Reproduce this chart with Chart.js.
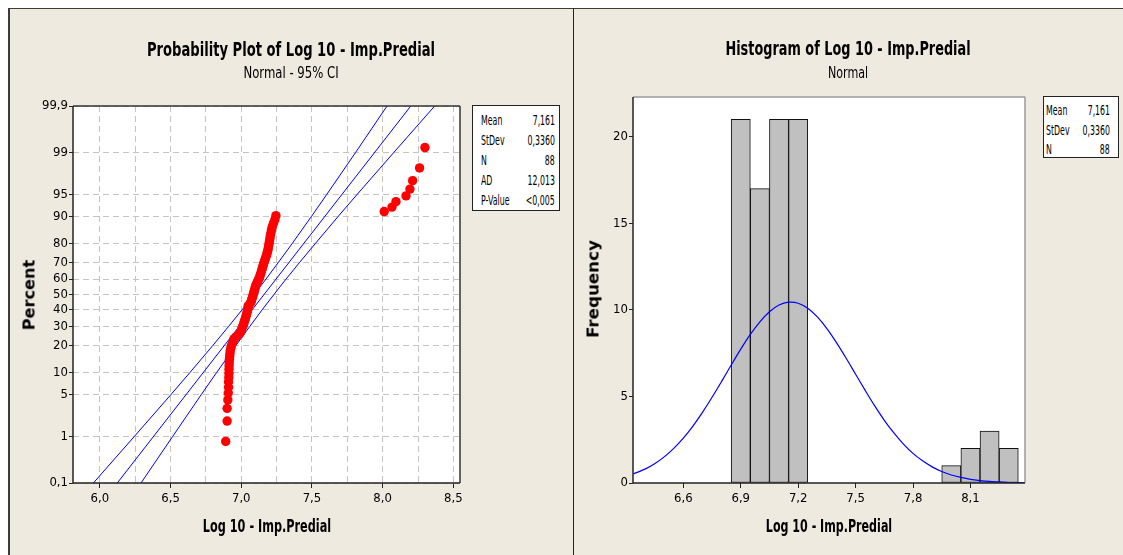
<!DOCTYPE html>
<html>
<head>
<meta charset="utf-8">
<script src="https://cdn.jsdelivr.net/npm/chart.js@4.4.1/dist/chart.umd.min.js"></script>
<style>
body { margin:0; width:1123px; height:555px; background:#fff; position:relative; overflow:hidden; font-family:"DejaVu Sans", sans-serif; }
.panel { position:absolute; top:8px; height:547px; background:#eeeae0; box-sizing:border-box; border-top:1px solid #3c3c3c; }
#lp { left:8px; width:565px; border-left:2px solid #3c3c3c; }
#rp { left:573px; width:550px; border-left:1px solid #222; }
canvas { position:absolute; top:0; }
.t { position:absolute; white-space:nowrap; line-height:1; color:#000; }
.box { position:absolute; background:#fff; border:1px solid #222; box-sizing:border-box; }
.box span { position:absolute; white-space:nowrap; font-size:14px; line-height:1; }
.box .l { transform-origin:left center; transform:scaleX(0.56); }
.box .r { transform-origin:right center; transform:scaleX(0.56); }
</style>
</head>
<body>
<div class="panel" id="lp"></div>
<div class="panel" id="rp"></div>
<canvas id="probChart" width="573" height="555" style="left:0"></canvas>
<canvas id="histChart" width="550" height="555" style="left:573px"></canvas>

<div class="t" data-x="290.5" data-y="49" data-w="288" style="font-size:20px;font-weight:bold">Probability Plot of Log 10 - Imp.Predial</div>
<div class="t" data-x="290.5" data-y="73" data-w="95" style="font-size:15px">Normal - 95% CI</div>
<div class="t" data-x="848" data-y="48" data-w="245" style="font-size:20px;font-weight:bold">Histogram of Log 10 - Imp.Predial</div>
<div class="t" data-x="848" data-y="73" data-w="40" style="font-size:15px">Normal</div>
<div class="t" data-x="30" data-y="295" data-w="70" data-r="1" style="font-size:15px;font-weight:bold">Percent</div>
<div class="t" data-x="594" data-y="289" data-w="98" data-r="1" style="font-size:15px;font-weight:bold">Frequency</div>
<div class="t" data-x="267" data-y="526" data-w="128" style="font-size:17px;font-weight:bold">Log 10 - Imp.Predial</div>
<div class="t" data-x="829" data-y="526" data-w="126" style="font-size:17px;font-weight:bold">Log 10 - Imp.Predial</div>

<div class="box" id="probStats" style="left:472px;top:105px;width:88px;height:106px"></div>
<div class="box" id="histStats" style="left:1043px;top:96px;width:76px;height:62px"></div>

<script>
// probability plot data (sorted values and plotted percent)
const probX = [
  6.890, 6.900, 6.900, 6.905, 6.908, 6.910, 6.910, 6.912, 6.913, 6.913,
  6.914, 6.915, 6.916, 6.918, 6.920, 6.922, 6.926, 6.930, 6.938, 6.944,
  6.948, 6.965, 6.985, 6.995, 7.000, 7.005, 7.012, 7.016, 7.020, 7.025,
  7.029, 7.033, 7.037, 7.040, 7.043, 7.047, 7.048, 7.049, 7.060, 7.068,
  7.072, 7.076, 7.080, 7.083, 7.087, 7.090, 7.094, 7.097, 7.100, 7.105,
  7.110, 7.116, 7.122, 7.128, 7.132, 7.136, 7.140, 7.144, 7.148, 7.152,
  7.156, 7.160, 7.165, 7.170, 7.175, 7.180, 7.184, 7.188, 7.191, 7.194,
  7.197, 7.200, 7.203, 7.206, 7.210, 7.214, 7.220, 7.228, 7.238, 7.245,
  8.011, 8.066, 8.094, 8.165, 8.193, 8.212, 8.261, 8.299
];
const probPct = [
  0.8, 1.9, 3.1, 4.2, 5.3, 6.4, 7.6, 8.7, 9.8, 11.0,
  12.1, 13.2, 14.4, 15.5, 16.6, 17.8, 18.9, 20.0, 21.2, 22.3,
  23.4, 24.5, 25.7, 26.8, 27.9, 29.1, 30.2, 31.3, 32.5, 33.6,
  34.7, 35.9, 37.0, 38.1, 39.3, 40.4, 41.5, 42.6, 43.8, 44.9,
  46.0, 47.2, 48.3, 49.4, 50.6, 51.7, 52.8, 54.0, 55.1, 56.2,
  57.4, 58.5, 59.6, 60.7, 61.9, 63.0, 64.1, 65.3, 66.4, 67.5,
  68.7, 69.8, 70.9, 72.1, 73.2, 74.3, 75.5, 76.6, 77.7, 78.8,
  80.0, 81.1, 82.2, 83.4, 84.5, 85.6, 86.8, 87.9, 89.0, 90.2,
  91.3, 92.4, 93.6, 94.7, 95.8, 96.9, 98.1, 99.2
];
const fitPct = [0.1, 99.9];
const fitX = [6.123, 8.199];
const ciPct = [0.1, 1, 5, 10, 20, 30, 40, 50, 60, 70, 80, 90, 95, 99, 99.9];
const ciLowX = [5.954, 6.244, 6.501, 6.636, 6.797, 6.910, 7.005, 7.091, 7.175, 7.262, 7.362, 7.497, 7.606, 7.808, 8.031];
const ciHighX = [6.291, 6.515, 6.716, 6.825, 6.960, 7.060, 7.147, 7.231, 7.317, 7.412, 7.526, 7.686, 7.821, 8.078, 8.368];

const pctTicks = [0.1, 1, 5, 10, 20, 30, 40, 50, 60, 70, 80, 90, 95, 99, 99.9];
const pctLabels = ['0,1', '1', '5', '10', '20', '30', '40', '50', '60', '70', '80', '90', '95', '99', '99,9'];
const probXGrid = [6.0, 6.25, 6.5, 6.75, 7.0, 7.25, 7.5, 7.75, 8.0, 8.25, 8.5];
const probXLabels = ['6,0', '', '6,5', '', '7,0', '', '7,5', '', '8,0', '', '8,5'];

// histogram data
const binMid = [6.9, 7.0, 7.1, 7.2, 7.3, 7.4, 7.5, 7.6, 7.7, 7.8, 7.9, 8.0, 8.1, 8.2, 8.3];
const binCount = [21, 17, 21, 21, 0, 0, 0, 0, 0, 0, 0, 1, 2, 3, 2];
const curveX = [6.34, 6.40, 6.45, 6.50, 6.55, 6.60, 6.65, 6.70, 6.75, 6.80, 6.85, 6.90, 6.95, 7.00, 7.05,
  7.10, 7.15, 7.20, 7.25, 7.30, 7.35, 7.40, 7.45, 7.50, 7.55, 7.60, 7.65, 7.70, 7.75, 7.80,
  7.85, 7.90, 7.95, 8.00, 8.05, 8.10, 8.15, 8.20, 8.25, 8.30, 8.35, 8.38];
const curveY = [0.53, 0.80, 1.11, 1.51, 2.00, 2.59, 3.29, 4.08, 4.95, 5.87, 6.81, 7.73, 8.58, 9.31, 9.89,
  10.28, 10.44, 10.38, 10.09, 9.59, 8.92, 8.11, 7.22, 6.28, 5.35, 4.45, 3.62, 2.89, 2.25, 1.71,
  1.28, 0.93, 0.66, 0.46, 0.32, 0.21, 0.14, 0.09, 0.06, 0.03, 0.02, 0.015];
const histXTicks = [6.6, 6.9, 7.2, 7.5, 7.8, 8.1];
const histXLabels = ['6,6', '6,9', '7,2', '7,5', '7,8', '8,1'];
const histYTicks = [0, 5, 10, 15, 20];

const probStats = [['Mean', '7,161'], ['StDev', '0,3360'], ['N', '88'], ['AD', '12,013'], ['P-Value', '<0,005']];
const histStats = [['Mean', '7,161'], ['StDev', '0,3360'], ['N', '88']];


function qnorm(p) {
  const a = [-3.969683028665376e+01, 2.209460984245205e+02, -2.759285104469687e+02, 1.383577518672690e+02, -3.066479806614716e+01, 2.506628277459239e+00];
  const b = [-5.447609879822406e+01, 1.615858368580409e+02, -1.556989798598866e+02, 6.680131188771972e+01, -1.328068155288572e+01];
  const c = [-7.784894002430293e-03, -3.223964580411365e-01, -2.400758277161838e+00, -2.549732539343734e+00, 4.374664141464968e+00, 2.938163982698783e+00];
  const d = [7.784695709041462e-03, 3.224671290700398e-01, 2.445134137142996e+00, 3.754408661907416e+00];
  const pl = 0.02425;
  let q, r;
  if (p < pl) {
    q = Math.sqrt(-2 * Math.log(p));
    return (((((c[0]*q+c[1])*q+c[2])*q+c[3])*q+c[4])*q+c[5]) / ((((d[0]*q+d[1])*q+d[2])*q+d[3])*q+1);
  }
  if (p > 1 - pl) {
    q = Math.sqrt(-2 * Math.log(1 - p));
    return -(((((c[0]*q+c[1])*q+c[2])*q+c[3])*q+c[4])*q+c[5]) / ((((d[0]*q+d[1])*q+d[2])*q+d[3])*q+1);
  }
  q = p - 0.5; r = q * q;
  return (((((a[0]*r+a[1])*r+a[2])*r+a[3])*r+a[4])*r+a[5])*q / (((((b[0]*r+b[1])*r+b[2])*r+b[3])*r+b[4])*r+1);
}

function pnorm(z) {
  const t = 1 / (1 + 0.2316419 * Math.abs(z));
  const y = 0.3989423 * Math.exp(-z * z / 2) * t * (0.3193815 + t * (-0.3565638 + t * (1.781478 + t * (-1.821256 + t * 1.330274))));
  return z > 0 ? 1 - y : y;
}

// normal probability axis
class ProbabilityScale extends Chart.LinearScale {
  determineDataLimits() {
    this.min = this.options.min;
    this.max = this.options.max;
  }
  buildTicks() {
    return pctTicks.map(v => ({ value: v }));
  }
  getPixelForValue(value) {
    const lo = qnorm(this.min / 100), hi = qnorm(this.max / 100);
    return this.getPixelForDecimal((qnorm(value / 100) - lo) / (hi - lo));
  }
  getValueForPixel(pixel) {
    const lo = qnorm(this.min / 100), hi = qnorm(this.max / 100);
    return 100 * pnorm(lo + this.getDecimalForPixel(pixel) * (hi - lo));
  }
}
ProbabilityScale.id = 'probability';
ProbabilityScale.defaults = Chart.LinearScale.defaults;
Chart.register(ProbabilityScale);

// white plot background and frame
const framePlugin = {
  id: 'frame',
  beforeDraw(chart) {
    const a = chart.chartArea, ctx = chart.ctx;
    ctx.save();
    ctx.fillStyle = '#fff';
    ctx.fillRect(a.left, a.top, a.right - a.left, a.bottom - a.top);
    ctx.restore();
  },
  afterDatasetsDraw(chart, args, opts) {
    const a = chart.chartArea, ctx = chart.ctx;
    const side = (c, x1, y1, x2, y2) => {
      ctx.beginPath(); ctx.strokeStyle = c; ctx.lineWidth = 1.5;
      ctx.moveTo(x1, y1); ctx.lineTo(x2, y2); ctx.stroke();
    };
    ctx.save();
    side(opts.top, a.left, a.top, a.right, a.top);
    side(opts.right, a.right, a.top, a.right, a.bottom);
    side(opts.bottom, a.left, a.bottom, a.right, a.bottom);
    side(opts.left, a.left, a.top, a.left, a.bottom);
    ctx.restore();
  }
};

Chart.defaults.font.family = '"Liberation Sans Narrow", "DejaVu Sans Condensed", sans-serif';
Chart.defaults.font.size = 13;
Chart.defaults.color = '#000';

const tickFont = { size: 13 };

new Chart(document.getElementById('probChart'), {
  type: 'scatter',
  plugins: [framePlugin],
  data: {
    datasets: [
      {
        data: probX.map((x, i) => ({ x: x, y: probPct[i] })),
        pointRadius: 4.7, pointBackgroundColor: '#ff0000', pointBorderWidth: 0, order: 0
      },
      {
        data: fitX.map((x, i) => ({ x: x, y: fitPct[i] })),
        showLine: true, borderColor: '#0000ff', borderWidth: 1, pointRadius: 0, order: 1
      },
      {
        data: ciLowX.map((x, i) => ({ x: x, y: ciPct[i] })),
        showLine: true, borderColor: '#0000ff', borderWidth: 1, pointRadius: 0, order: 1
      },
      {
        data: ciHighX.map((x, i) => ({ x: x, y: ciPct[i] })),
        showLine: true, borderColor: '#0000ff', borderWidth: 1, pointRadius: 0, order: 1
      }
    ]
  },
  options: {
    responsive: false,
    devicePixelRatio: 1,
    animation: false,
    layout: { padding: { left: 0, right: 113, top: 106, bottom: 0 } },
    plugins: {
      legend: { display: false },
      tooltip: { enabled: false },
      frame: { top: '#333', right: '#333', bottom: '#222', left: '#222' }
    },
    scales: {
      x: {
        type: 'linear', min: 5.81, max: 8.547,
        afterBuildTicks: s => { s.ticks = probXGrid.map(v => ({ value: v })); },
        afterFit: s => { s.height = 72; },
        ticks: { autoSkip: false, maxRotation: 0, padding: 3, font: tickFont, callback: (v, i) => probXLabels[i] },
        grid: {
          color: '#c4c4c4', lineWidth: 1, tickLength: 5,
          tickColor: c => (c.index % 2 === 0 ? '#222' : 'rgba(0,0,0,0)')
        },
        border: { display: false, dash: [6, 4] }
      },
      y: {
        type: 'probability', min: 0.1, max: 99.9,
        afterFit: s => { s.width = 73; },
        ticks: { autoSkip: false, padding: 1, font: tickFont, callback: (v, i) => pctLabels[i] },
        grid: { color: '#c4c4c4', lineWidth: 1, tickLength: 4, tickColor: '#222' },
        border: { display: false, dash: [6, 4] }
      }
    }
  }
});

new Chart(document.getElementById('histChart'), {
  type: 'bar',
  plugins: [framePlugin],
  data: {
    datasets: [
      {
        type: 'line',
        data: curveX.map((x, i) => ({ x: x, y: curveY[i] })),
        borderColor: '#0000ff', borderWidth: 1.2, pointRadius: 0, tension: 0.3, order: 0
      },
      {
        type: 'bar',
        data: binMid.map((x, i) => ({ x: x, y: binCount[i] })),
        backgroundColor: '#c0c0c0', borderColor: '#111', borderWidth: 1, borderSkipped: false,
        barPercentage: 1, categoryPercentage: 1, grouped: false, order: 1
      }
    ]
  },
  options: {
    responsive: false,
    devicePixelRatio: 1,
    animation: false,
    layout: { padding: { left: 0, right: 98, top: 97, bottom: 0 } },
    plugins: {
      legend: { display: false },
      tooltip: { enabled: false },
      frame: { top: '#9a9a9a', right: '#9a9a9a', bottom: '#222', left: '#222' }
    },
    scales: {
      x: {
        type: 'linear', min: 6.337, max: 8.385, offset: false,
        afterBuildTicks: s => { s.ticks = histXTicks.map(v => ({ value: v })); },
        afterFit: s => { s.height = 72; },
        ticks: { autoSkip: false, maxRotation: 0, padding: 3, font: tickFont, callback: (v, i) => histXLabels[i] },
        grid: { display: true, drawOnChartArea: false, tickLength: 5, tickColor: '#222', offset: false },
        border: { display: false }
      },
      y: {
        type: 'linear', min: 0, max: 22.29,
        afterBuildTicks: s => { s.ticks = histYTicks.map(v => ({ value: v })); },
        afterFit: s => { s.width = 60; },
        ticks: { autoSkip: false, padding: 1, font: tickFont },
        grid: { display: true, drawOnChartArea: false, tickLength: 4, tickColor: '#222' },
        border: { display: false }
      }
    }
  }
});

// stat boxes
function fillBox(id, rows, firstY, step, padL, padR) {
  const box = document.getElementById(id);
  rows.forEach((r, i) => {
    const l = document.createElement('span');
    l.className = 'l'; l.textContent = r[0];
    l.style.left = padL + 'px'; l.style.top = (firstY + i * step - 7) + 'px';
    const v = document.createElement('span');
    v.className = 'r'; v.textContent = r[1];
    v.style.right = padR + 'px'; v.style.top = (firstY + i * step - 7) + 'px';
    box.appendChild(l); box.appendChild(v);
  });
}
fillBox('probStats', probStats, 14, 20, 8, 4);
fillBox('histStats', histStats, 13, 19.5, 2, 8);

// titles: centre and squeeze to the reference widths
document.querySelectorAll('.t').forEach(el => {
  const k = (+el.dataset.w) / el.offsetWidth;
  el.style.left = el.dataset.x + 'px';
  el.style.top = el.dataset.y + 'px';
  el.style.transform = 'translate(-50%,-50%)' + (el.dataset.r ? ' rotate(-90deg)' : '') + ' scaleX(' + k.toFixed(3) + ')';
});
</script>
</body>
</html>
